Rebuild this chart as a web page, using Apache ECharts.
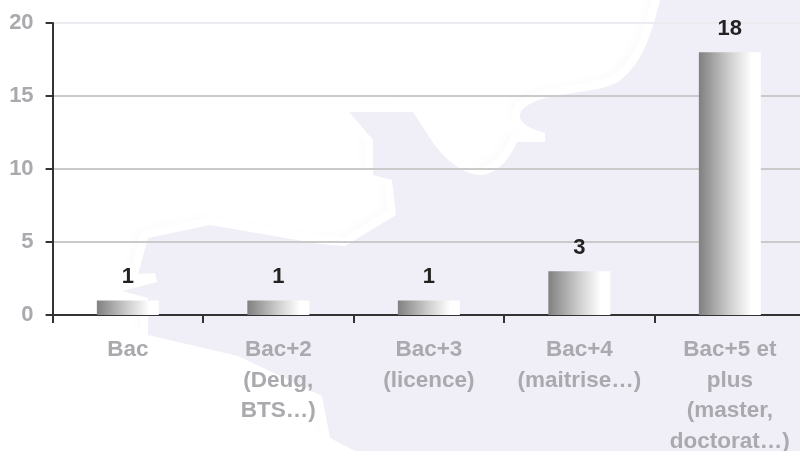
<!DOCTYPE html>
<html><head><meta charset="utf-8">
<style>html,body{margin:0;padding:0;background:#fff}#c{width:800px;height:451px}</style>
<script src="https://cdn.jsdelivr.net/npm/echarts@6/dist/echarts.min.js"></script>
</head><body><div id="c"></div>
<script>
const categories = ['Bac','Bac+2\n(Deug,\nBTS…)','Bac+3\n(licence)','Bac+4\n(maitrise…)','Bac+5 et\nplus\n(master,\ndoctorat…)'];
const values = [1,1,1,3,18];
const mapPath = 'M665 -20 L660 0 C652 30 645 62 618 82 C600 92 565 92 545 98 C528 103 518 110 520 118 C524 127 535 130 545 133 L545 142 L517 142 C510 158 498 174 480 175 C460 174 440 155 428 135 L413 112 L349 112 L373 140 L373 175 L392 180 L396 215 L345 246 L320 244 L210 225 L148 238 L138 274 L155 273 L157 282 L122 291 L148 298 L148 335 L238 356 L322 396 L330 438 L355 451 L370 480 L830 480 L830 -20 Z';
echarts.graphic.registerShape('mapShape', echarts.graphic.extendPath(mapPath, {}));
const chart = echarts.init(document.getElementById('c'), null, {renderer:'canvas'});
chart.setOption({
  animation:false,
  backgroundColor:'#ffffff',
  graphic:{elements:[
    {type:'mapShape',z:-4,silent:true,x:-10,y:-7,
      style:{fill:'#FCFCFD',shadowBlur:14,shadowColor:'#FBFBFD'}},
    {type:'mapShape',z:-3,silent:true,
      style:{fill:'#ffffff',stroke:'#ffffff',lineWidth:16}},
    {type:'mapShape',z:-2,silent:true,
      style:{fill:'#F0EFF8'}}
  ]},
  grid:{left:52.6,top:23,width:752.5,height:292,outerBoundsMode:'none'},
  xAxis:{type:'category',data:categories,
    axisLine:{lineStyle:{color:'#333333',width:2}},
    axisTick:{show:true,length:8,alignWithLabel:false,lineStyle:{color:'#333333',width:2}},
    axisLabel:{color:'#AAA9AE',fontFamily:'Liberation Sans',fontWeight:'bold',fontSize:22.5,lineHeight:30.5,margin:20,interval:0,overflow:'none'}},
  yAxis:{type:'value',min:0,max:20,interval:5,
    axisLine:{show:true,lineStyle:{color:'#333333',width:2}},
    axisTick:{show:true,length:7,lineStyle:{color:'#333333',width:2}},
    axisLabel:{color:'#AAA9AE',fontFamily:'Liberation Sans',fontWeight:'bold',fontSize:22,margin:19,padding:[2,0,0,0]},
    splitLine:{show:true,lineStyle:{color:['#CACACA','#CACACA','#CACACA','#CACACA','#ECECF0'],width:2}}},
  series:[{type:'bar',data:values,barWidth:62,
    itemStyle:{color:{type:'linear',x:0,y:0,x2:1,y2:0,colorStops:[{offset:0,color:'#808080'},{offset:0.5,color:'#CFCFCF'},{offset:0.85,color:'#FFFFFF'},{offset:1,color:'#FFFFFF'}]}},
    label:{show:true,position:'top',distance:12,color:'#222222',fontFamily:'Liberation Sans',fontWeight:'bold',fontSize:22}}]
});
</script></body></html>
